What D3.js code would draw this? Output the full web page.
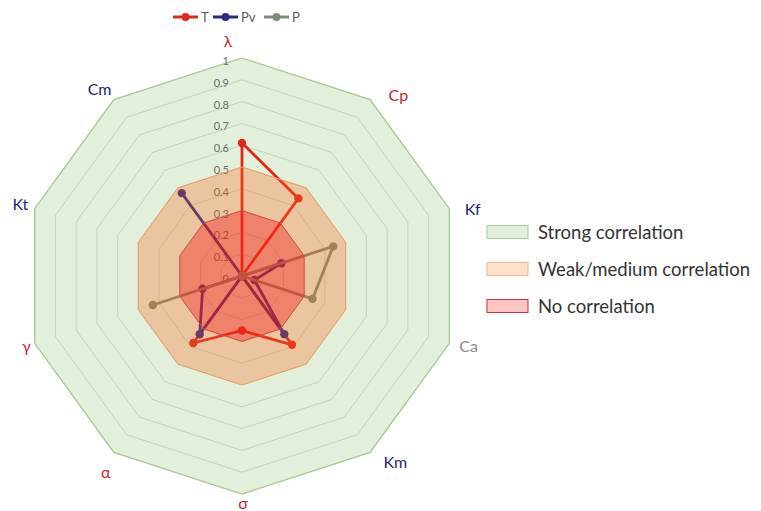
<!DOCTYPE html>
<html><head><meta charset="utf-8">
<script src="https://cdn.jsdelivr.net/npm/d3@7"></script>
<style>body{margin:0;background:#fff}svg{display:block}</style>
</head><body><svg id="c" width="761" height="511"></svg>
<script>
// ---- data ----
const axes = ["λ","Cp","Kf","Ca","Km","σ","α","γ","Kt","Cm"];
const seriesNames = ["T","Pv","P"];
const tValues  = [0.61,0.44,0,0,0.39,0.25,0.38,0,0,0];
const pvValues = [0,0,0.19,0.06,0.33,0,0.33,0.19,0,0.47];
const pValues  = [0,0,0.44,0.34,0,0,0,0.43,0,0];
const bandNames  = ["Strong correlation","Weak/medium correlation","No correlation"];
const bandValues = [1,0.5,0.3];
const tickValues = [0,0.1,0.2,0.3,0.4,0.5,0.6,0.7,0.8,0.9,1];
const tickLabels = ["0","0.1","0.2","0.3","0.4","0.5","0.6","0.7","0.8","0.9","1"];

// ---- style ----
const axisColor = {"λ":"#c0262d","Cp":"#c0262d","Kf":"#1f1f7a","Ca":"#8a8a8a","Km":"#1f1f7a",
  "σ":"#c0262d","α":"#c0262d","γ":"#c0262d","Kt":"#1f1f7a","Cm":"#1f1f7a"};
const labelNudge = {"λ":[-14,-4],"Cp":[20,6],"Kf":[10,4],"Ca":[6,-2],"Km":[17,-2],
  "σ":[1,-6],"α":[0,8],"γ":[5,-2],"Kt":[-1,-1],"Cm":[-6,0]};
const seriesColors = ["#e3261c","#2b2a86","#7f8c78"];
const bandFill = ["#e2efda","rgba(253,99,25,0.3)","rgba(250,10,15,0.36)"];
const bandStroke = ["#a9c690","#e9a068","#d05048"];
const legendFill = ["#e2efda","#fbe0cc","#ffc4c4"];
const legendStroke = ["#a9c98f","#f0b58a","#c8303a"];

const svg = d3.select("#c");
const cx = 242, cy = 276, R = 218;
const n = axes.length;
const r = d3.scaleLinear().domain([0,1]).range([0,R]);
const ang = d3.scaleLinear().domain([0,n]).range([0,2*Math.PI]);
const pt = (i,v)=>[cx + r(v)*Math.sin(ang(i)), cy - r(v)*Math.cos(ang(i))];

const radial = d3.lineRadial().angle((d,i)=>ang(i)).radius(d=>r(d)).curve(d3.curveLinearClosed);
const g = svg.append("g").attr("transform",`translate(${cx},${cy})`);

// strong band (opaque base)
g.append("path").attr("d", radial(axes.map(()=>bandValues[0])))
  .attr("fill",bandFill[0]).attr("stroke",bandStroke[0]).attr("stroke-width",1.3);
// grid
tickValues.filter(v=>v>0 && v<1).forEach(v=>{
  g.append("path").attr("d", radial(axes.map(()=>v)))
    .attr("fill","none").attr("stroke","#c3d6b8").attr("stroke-width",1);
});
// tick labels
svg.append("g").selectAll("text").data(tickValues).join("text")
  .attr("x", cx-13).attr("y", v=>cy - r(v) + 7)
  .attr("text-anchor","end").attr("font-family","Lato, 'Open Sans', sans-serif")
  .attr("font-size",11).attr("fill","#6b6b6b")
  .text((v,i)=>tickLabels[i]);

// series
const allSeries = [tValues,pvValues,pValues];
const lineGen = d3.line().curve(d3.curveLinearClosed);
allSeries.forEach((vals,si)=>{
  const pts = vals.map((v,i)=>pt(i,v));
  svg.append("path").attr("d", lineGen(pts)).attr("fill","none")
    .attr("stroke",seriesColors[si]).attr("stroke-width",2.8).attr("stroke-linejoin","round");
  svg.append("g").selectAll("circle").data(pts).join("circle")
    .attr("cx",d=>d[0]).attr("cy",d=>d[1]).attr("r",4.2).attr("fill",seriesColors[si]);
});

// translucent bands on top of the series
const gTop = svg.append("g").attr("transform",`translate(${cx},${cy})`);
[1,2].forEach(b=>{
  gTop.append("path").attr("d", radial(axes.map(()=>bandValues[b])))
    .attr("fill",bandFill[b]).attr("stroke",bandStroke[b]).attr("stroke-width",1);
});

// axis labels
svg.append("g").selectAll("text").data(axes).join("text")
  .attr("x",(d,i)=>pt(i,1)[0] + 14*Math.sin(ang(i)) + labelNudge[d][0])
  .attr("y",(d,i)=>pt(i,1)[1] - 14*Math.cos(ang(i)) + labelNudge[d][1])
  .attr("text-anchor","middle").attr("dominant-baseline","central")
  .attr("font-family","Lato, 'Open Sans', sans-serif").attr("font-size",16)
  .attr("fill",d=>axisColor[d]).text(d=>d);

// top legend
const lx = [173, 213, 264];
const tl = svg.append("g");
seriesNames.forEach((s,i)=>{
  tl.append("line").attr("x1",lx[i]).attr("x2",lx[i]+25).attr("y1",17).attr("y2",17)
    .attr("stroke",seriesColors[i]).attr("stroke-width",3);
  tl.append("circle").attr("cx",lx[i]+12.5).attr("cy",17).attr("r",4).attr("fill",seriesColors[i]);
  tl.append("text").attr("x",lx[i]+28).attr("y",17).attr("dominant-baseline","central")
    .attr("font-family","Lato, 'Open Sans', sans-serif").attr("font-size",13).attr("fill","#595959").text(s);
});

// right legend
const rl = svg.append("g");
bandNames.forEach((b,i)=>{
  const y = 232 + i*37;
  rl.append("rect").attr("x",487).attr("y",y-6.5).attr("width",41).attr("height",13)
    .attr("fill",legendFill[i]).attr("stroke",legendStroke[i]).attr("stroke-width",1);
  rl.append("text").attr("x",538).attr("y",y).attr("dominant-baseline","central")
    .attr("font-family","Lato, 'Open Sans', sans-serif").attr("font-size",18.5).attr("fill","#333")
    .text(b);
});
</script></body></html>
